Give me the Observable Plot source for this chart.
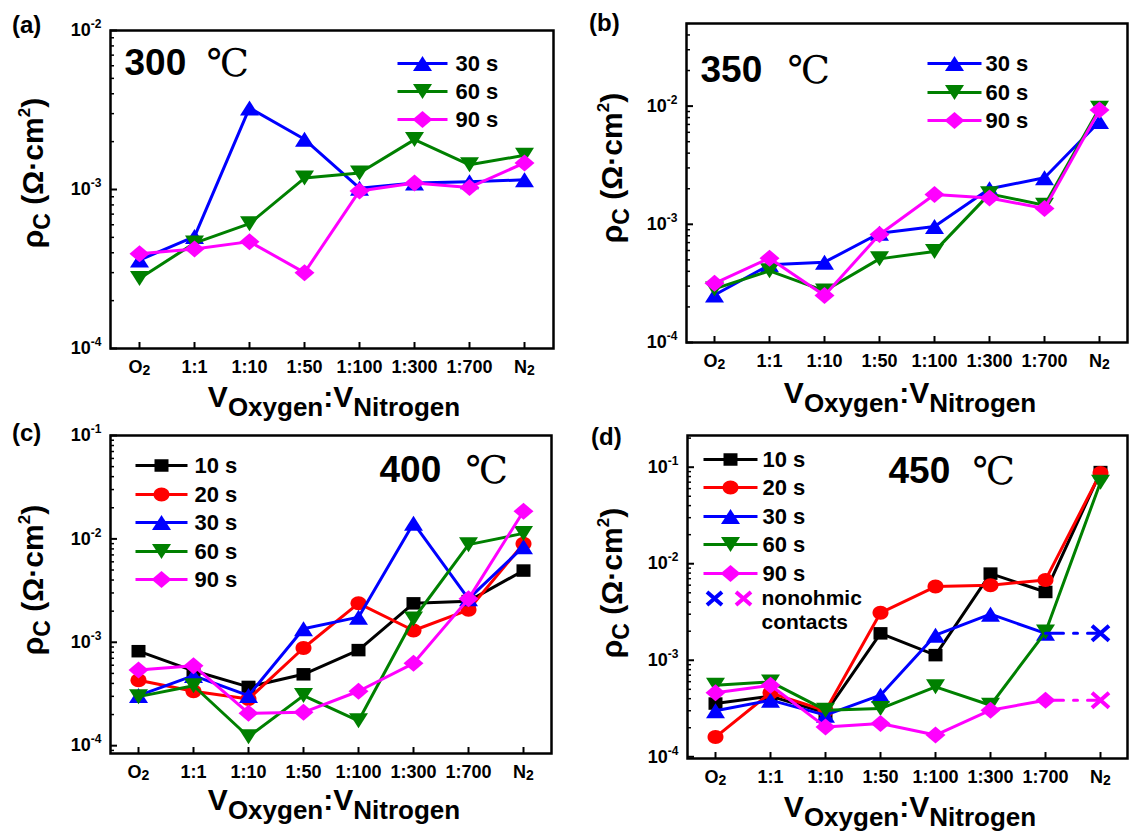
<!DOCTYPE html>
<html><head><meta charset="utf-8">
<script src="https://cdn.jsdelivr.net/npm/d3@7"></script>
<script src="https://cdn.jsdelivr.net/npm/@observablehq/plot@0.6"></script>
<style>
body{margin:0;background:#fff;}
#wrap{position:relative;width:1129px;height:832px;overflow:hidden;background:#fff;font-family:"Liberation Sans",Arial,Helvetica,sans-serif;font-weight:bold;color:#000;}
.lbl{position:absolute;white-space:nowrap;line-height:1;z-index:5;}
.sb{font-size:26px;position:relative;top:9px;}
.sbc{font-size:23px;position:relative;top:7px;}
.sp{font-size:17px;position:relative;top:-13px;}
</style></head>
<body><div id="wrap"></div>
<script>
// ---------- data ----------
const categories = ["O₂","1:1","1:10","1:50","1:100","1:300","1:700","N₂"];
const seriesLabels = ["10 s","20 s","30 s","60 s","90 s"];
const temperatures = ["300","350","400","450"];
// (a) 300 ℃
const a30 = [3.6e-4, 5.06e-4, 3.26e-3, 2.07e-3, 1.02e-3, 1.1e-3, 1.12e-3, 1.15e-3];
const a60 = [2.76e-4, 4.6e-4, 6.1e-4, 1.18e-3, 1.27e-3, 2.06e-3, 1.43e-3, 1.64e-3];
const a90 = [3.94e-4, 4.23e-4, 4.7e-4, 3.0e-4, 9.8e-4, 1.1e-3, 1.03e-3, 1.47e-3];
// (b) 350 ℃
const b30 = [2.52e-4, 4.54e-4, 4.78e-4, 8.4e-4, 9.6e-4, 2.0e-3, 2.48e-3, 7.4e-3];
const b60 = [2.84e-4, 4.04e-4, 2.73e-4, 5.1e-4, 5.9e-4, 1.81e-3, 1.45e-3, 9.6e-3];
const b90 = [3.17e-4, 5.17e-4, 2.5e-4, 8.2e-4, 1.79e-3, 1.67e-3, 1.36e-3, 9.25e-3];
// (c) 400 ℃
const c10 = [8.2e-4, 5.3e-4, 3.7e-4, 4.9e-4, 8.4e-4, 2.38e-3, 2.5e-3, 4.94e-3];
const c20 = [4.3e-4, 3.36e-4, 2.83e-4, 8.8e-4, 2.38e-3, 1.3e-3, 2.06e-3, 8.96e-3];
const c30 = [3.05e-4, 4.76e-4, 3.05e-4, 1.35e-3, 1.75e-3, 1.42e-2, 2.63e-3, 8.4e-3];
const c60 = [2.98e-4, 3.8e-4, 1.22e-4, 3.05e-4, 1.74e-4, 1.68e-3, 8.8e-3, 1.13e-2];
const c90 = [5.4e-4, 5.94e-4, 2.06e-4, 2.1e-4, 3.36e-4, 6.26e-4, 2.63e-3, 1.85e-2];
// (d) 450 ℃
const d10 = [3.56e-4, 4.25e-4, 2.85e-4, 1.9e-3, 1.13e-3, 7.9e-3, 5.1e-3, 8.9e-2];
const d20 = [1.6e-4, 4.6e-4, 3.0e-4, 3.1e-3, 5.8e-3, 6.0e-3, 6.8e-3, 8.7e-2];
const d30 = [3.0e-4, 3.86e-4, 2.7e-4, 4.35e-4, 1.82e-3, 3.0e-3, 1.9e-3, null];
const d60 = [5.5e-4, 5.97e-4, 3.04e-4, 3.16e-4, 5.3e-4, 3.42e-4, 1.96e-3, 7.0e-2];
const d90 = [4.6e-4, 5.5e-4, 2.04e-4, 2.21e-4, 1.68e-4, 3.04e-4, 3.86e-4, null];
// nonohmic contacts at N₂ (450 ℃)
const d30Nonohmic = 1.9e-3;
const d90Nonohmic = 3.86e-4;

// ---------- symbols ----------
function rectSym(w,h){return {draw(c){c.moveTo(-w/2,-h/2);c.lineTo(w/2,-h/2);c.lineTo(w/2,h/2);c.lineTo(-w/2,h/2);c.closePath();}};}
function ellSym(rx,ry){const k=0.5523;return {draw(c){c.moveTo(rx,0);c.bezierCurveTo(rx,ry*k,rx*k,ry,0,ry);c.bezierCurveTo(-rx*k,ry,-rx,ry*k,-rx,0);c.bezierCurveTo(-rx,-ry*k,-rx*k,-ry,0,-ry);c.bezierCurveTo(rx*k,-ry,rx,-ry*k,rx,0);c.closePath();}};}
function triSym(w,h,dir){return {draw(c){c.moveTo(0,-dir*h/2);c.lineTo(w/2,dir*h/2);c.lineTo(-w/2,dir*h/2);c.closePath();}};}
function diaSym(w,h){return {draw(c){c.moveTo(0,-h/2);c.lineTo(w/2,0);c.lineTo(0,h/2);c.lineTo(-w/2,0);c.closePath();}};}
function timesSym(w,h){return {draw(c){c.moveTo(-w/2,-h/2);c.lineTo(w/2,h/2);c.moveTo(w/2,-h/2);c.lineTo(-w/2,h/2);}};}
function hlineSym(L){return {draw(c){c.moveTo(-L,0);c.lineTo(L,0);}};}

const seriesStyle = {
  "10 s": {color:"#000000", symbol: rectSym(14,12.5)},
  "20 s": {color:"#ff0000", symbol: ellSym(8,7)},
  "30 s": {color:"#0000ff", symbol: triSym(19,15,1)},
  "60 s": {color:"#008000", symbol: triSym(19,15,-1)},
  "90 s": {color:"#ff00ff", symbol: diaSym(20,17)}
};
const FONT = '"Liberation Sans", Arial, Helvetica, sans-serif';
const SERIF = '"DejaVu Serif", "Liberation Serif", serif';
const LW = 3;

const panels = [
  {left:0, top:0, width:560, height:400, ml:110, mr:7, mt:30, mb:52, domain:[1e-4,1e-2],
   series:[["30 s",a30],["60 s",a60],["90 s",a90]], temp:temperatures[0], tempX:124, tempY:63, degX:206,
   legend:{lineX:422, half:25, textX:455, rows:[63,91,119]},
   label:{text:"(a)", x:12, y:13}, yTitle:{x:33, y:173}, xTitle:{x:334, base:407}},
  {left:560, top:0, width:569, height:400, ml:126, mr:2, mt:23, mb:58, domain:[1e-4,0.05],
   series:[["30 s",b30],["60 s",b60],["90 s",b90]], temp:temperatures[1], tempX:700, tempY:70, degX:787,
   legend:{lineX:954, half:27, textX:985, rows:[63,92,120]},
   label:{text:"(b)", x:589, y:11}, yTitle:{x:612, y:168}, xTitle:{x:910, base:403}},
  {left:0, top:420, width:560, height:380, ml:110, mr:9, mt:15, mb:47, domain:[8.4e-5,0.1],
   series:[["10 s",c10],["20 s",c20],["30 s",c30],["60 s",c60],["90 s",c90]], temp:temperatures[2], tempX:379, tempY:470, degX:465,
   legend:{lineX:161, half:26, textX:194, rows:[465,494,522,551,579]},
   label:{text:"(c)", x:12, y:421}, yTitle:{x:33, y:580}, xTitle:{x:334, base:810}},
  {left:560, top:420, width:569, height:380, ml:127, mr:2, mt:15, mb:42, domain:[9.6e-5,0.213],
   series:[["10 s",d10],["20 s",d20],["30 s",d30],["60 s",d60],["90 s",d90]], temp:temperatures[3], tempX:888, tempY:471, degX:972,
   legend:{lineX:730, half:27, textX:762, rows:[459,487,516,544,573]},
   nonohmic:[["30 s", d30, d30Nonohmic],["90 s", d90, d90Nonohmic]],
   nonLegend:{x1:714, x2:743, y:598, textX:761, y2:622},
   label:{text:"(d)", x:591, y:425}, yTitle:{x:612, y:583}, xTitle:{x:910, base:817}}
];

const wrap = document.getElementById("wrap");
function addDiv(html, css){const d=document.createElement("div");d.className="lbl";d.innerHTML=html;Object.assign(d.style,css);wrap.appendChild(d);return d;}
const NS = "http://www.w3.org/2000/svg";
function tspan(parent, txt, css, attrs){const t=document.createElementNS(NS,"tspan");t.textContent=txt;Object.assign(t.style,css||{});for(const k in (attrs||{}))t.setAttribute(k,attrs[k]);parent.appendChild(t);}

panels.forEach(p => {
  const pw = p.width - p.ml - p.mr, ph = p.height - p.mt - p.mb;
  const fx = x => x - (p.left + p.ml), fy = y => y - (p.top + p.mt);
  const [lo, hi] = p.domain;
  const majors = [], minors = [];
  for (let e = -5; e <= 0; e++) for (let m = 1; m <= 9; m++) {
    const v = m * Math.pow(10, e);
    if (v >= lo * 0.999 && v <= hi * 1.001) (m === 1 ? majors : minors).push(v);
  }
  const marks = [
    Plot.tickY(minors, {y: d => d, insetRight: pw - 4, stroke:"#000", strokeWidth: 1.5}),
    Plot.tickY(majors, {y: d => d, insetRight: pw - 7, stroke:"#000", strokeWidth: 2}),
    Plot.tickX(categories, {x: d => d, insetTop: ph - 6, stroke:"#000", strokeWidth: 2}),
    Plot.axisY({ticks: majors, tickSize: 0, tickPadding: 9, label: null,
      tickFormat: d => "10^" + Math.round(Math.log10(d)), fontSize: 18, fontWeight: "bold"}),
    Plot.axisX({tickSize: 0, tickPadding: 12, label: null, fontSize: 18, fontWeight: "bold"})
  ];
  p.series.forEach(([name, vals]) => {
    const st = seriesStyle[name];
    const data = categories.map((c, i) => ({c, v: vals[i]})).filter(d => d.v != null);
    marks.push(Plot.line(data, {x: "c", y: "v", stroke: st.color, strokeWidth: LW}));
    marks.push(Plot.dot(data, {x: "c", y: "v", symbol: st.symbol, fill: st.color, stroke: "none"}));
  });
  if (p.nonohmic) {
    p.nonohmic.forEach(([name, vals, nv]) => {
      const st = seriesStyle[name];
      const seg = [{c: categories[6], v: vals[6]}, {c: categories[7], v: nv}];
      marks.push(Plot.line(seg, {x: "c", y: "v", stroke: st.color, strokeWidth: LW, strokeDasharray: "18,10,4,10"}));
      marks.push(Plot.dot([seg[1]], {x: "c", y: "v", symbol: timesSym(17,15), stroke: st.color, strokeWidth: 4, fill: "none"}));
    });
  }
  // legend
  const names = p.series.map(s => s[0]);
  names.forEach((name, k) => {
    const st = seriesStyle[name], y = p.legend.rows[k];
    marks.push(Plot.dot([0], {frameAnchor: "top-left", dx: fx(p.legend.lineX), dy: fy(y), symbol: hlineSym(p.legend.half), stroke: st.color, strokeWidth: LW, fill: "none"}));
    marks.push(Plot.dot([0], {frameAnchor: "top-left", dx: fx(p.legend.lineX), dy: fy(y), symbol: st.symbol, fill: st.color, stroke: "none"}));
    marks.push(Plot.text([name], {frameAnchor: "top-left", dx: fx(p.legend.textX), dy: fy(y), textAnchor: "start", lineAnchor: "middle", fontSize: 22, fontWeight: "bold", fill: "#000"}));
  });
  if (p.nonLegend) {
    const L = p.nonLegend;
    marks.push(Plot.dot([0], {frameAnchor: "top-left", dx: fx(L.x1), dy: fy(L.y), symbol: timesSym(15,13), stroke: seriesStyle["30 s"].color, strokeWidth: 4, fill: "none"}));
    marks.push(Plot.dot([0], {frameAnchor: "top-left", dx: fx(L.x2), dy: fy(L.y), symbol: timesSym(15,13), stroke: seriesStyle["90 s"].color, strokeWidth: 4, fill: "none"}));
    marks.push(Plot.text(["nonohmic"], {frameAnchor: "top-left", dx: fx(L.textX), dy: fy(L.y), textAnchor: "start", lineAnchor: "middle", fontSize: 21, fontWeight: "bold", fill: "#000"}));
    marks.push(Plot.text(["contacts"], {frameAnchor: "top-left", dx: fx(L.textX), dy: fy(L.y2), textAnchor: "start", lineAnchor: "middle", fontSize: 21, fontWeight: "bold", fill: "#000"}));
  }
  // temperature label
  marks.push(Plot.text([p.temp], {frameAnchor: "top-left", dx: fx(p.tempX), dy: fy(p.tempY), textAnchor: "start", lineAnchor: "middle", fontSize: 37, fontWeight: "bold", fill: "#000"}));
  marks.push(Plot.text(["℃"], {frameAnchor: "top-left", dx: fx(p.degX), dy: fy(p.tempY), textAnchor: "start", lineAnchor: "middle", fontSize: 38, fontWeight: "normal", fontFamily: SERIF, fill: "#000"}));
  marks.push(Plot.frame({stroke: "#000", strokeWidth: 2.5}));

  const svg = Plot.plot({
    width: p.width, height: p.height,
    marginLeft: p.ml, marginRight: p.mr, marginTop: p.mt, marginBottom: p.mb,
    x: {type: "point", domain: categories, padding: 0.5, label: null},
    y: {type: "log", domain: p.domain, label: null},
    style: {fontFamily: FONT, fontWeight: "bold", background: "#fff", overflow: "visible", color: "#000"},
    marks
  });
  svg.style.position = "absolute";
  svg.style.left = p.left + "px";
  svg.style.top = p.top + "px";
  wrap.appendChild(svg);

  svg.querySelectorAll('[aria-label="y-axis tick label"] text').forEach(t => {
    const m = t.textContent.match(/^10\^(-?\d+)$/);
    if (!m) return;
    t.textContent = "";
    t.style.fontSize = "18px";
    t.style.fontWeight = "bold";
    tspan(t, "10", {fontSize: "18px"});
    tspan(t, m[1], {fontSize: "12px"}, {dy: "-8"});
  });
  svg.querySelectorAll('[aria-label="x-axis tick label"] text').forEach(t => {
    const s = t.textContent;
    t.style.fontSize = "18px";
    t.style.fontWeight = "bold";
    if (!s.includes("₂")) return;
    t.textContent = "";
    tspan(t, s.replace("₂", ""), {fontSize: "18px"});
    tspan(t, "2", {fontSize: "14px"}, {dy: "2"});
  });

  addDiv(p.label.text, {left: p.label.x + "px", top: p.label.y + "px", fontSize: "24px"});
  addDiv('V<span class="sb">Oxygen</span>:V<span class="sb">Nitrogen</span>',
    {left: p.xTitle.x + "px", top: (p.xTitle.base - 25) + "px", fontSize: "30px", transform: "translateX(-50%)"});
  addDiv('ρ<span class="sbc">C</span> (Ω·cm<span class="sp">2</span>)',
    {left: p.yTitle.x + "px", top: p.yTitle.y + "px", fontSize: "30px", transform: "translate(-50%,-50%) rotate(-90deg)"});
});
</script>
</body></html>
